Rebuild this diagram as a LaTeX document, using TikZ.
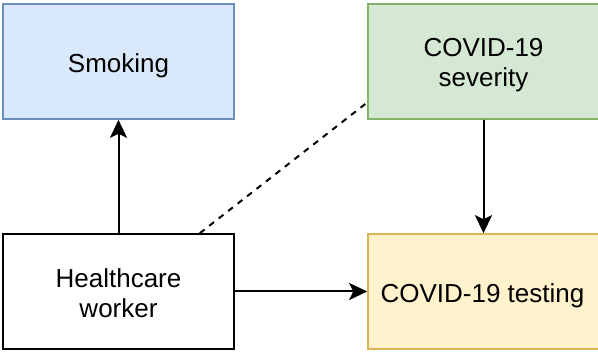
\documentclass[tikz,border=0pt]{standalone}
\usepackage{fontspec}
\setmainfont{Liberation Sans}
\usetikzlibrary{arrows.meta}
\definecolor{bluefill}{HTML}{DAE8FC}
\definecolor{bluedraw}{HTML}{6C8EBF}
\definecolor{greenfill}{HTML}{D5E8D4}
\definecolor{greendraw}{HTML}{82B366}
\definecolor{yellowfill}{HTML}{FFF2CC}
\definecolor{yellowdraw}{HTML}{D6B656}
\begin{document}
\begin{tikzpicture}[x=1pt,y=1pt]
\tikzset{
  box/.style={draw, line width=1.6pt, minimum width=231pt, minimum height=115pt,
    inner sep=0pt},
  lbl/.style={align=center, inner sep=0pt, font=\fontsize{26}{30}\selectfont},
  arr/.style={line width=2pt, -{Stealth[length=18pt,width=17pt,inset=4pt]}},
  dashline/.style={line width=2pt, dash pattern=on 6pt off 6pt}}
\useasboundingbox (0,0) rectangle (598,354);
\node[box, fill=bluefill, draw=bluedraw] (smoke) at (118.5,292.5) {};
\node[box, fill=greenfill, draw=greendraw] (sev) at (483.5,292.5) {};
\node[box, fill=white, draw=black] (hw) at (118.5,62.5) {};
\node[box, fill=yellowfill, draw=yellowdraw] (test) at (483.5,62.5) {};
\node[lbl] (smokelbl) at ([yshift=-4pt]smoke.center) {Smoking};
\node[lbl] (sevlbl) at ([yshift=-3.5pt]sev.center) {COVID-19\\severity};
\node[lbl] (hwlbl) at ([yshift=-2pt]hw.center) {Healthcare\\worker};
\node[lbl] (testlbl) at ([xshift=-1pt,yshift=-4.5pt]test.center) {COVID-19 testing};
\draw[arr] (hw.north) -- (smoke.south);
\draw[arr] (sev.south) -- (test.north);
\draw[arr] (hw.east) -- (test.west);
\draw[dashline] ([xshift=-35pt]hw.north east) -- ([yshift=-41pt]sev.west);
\end{tikzpicture}
\end{document}
